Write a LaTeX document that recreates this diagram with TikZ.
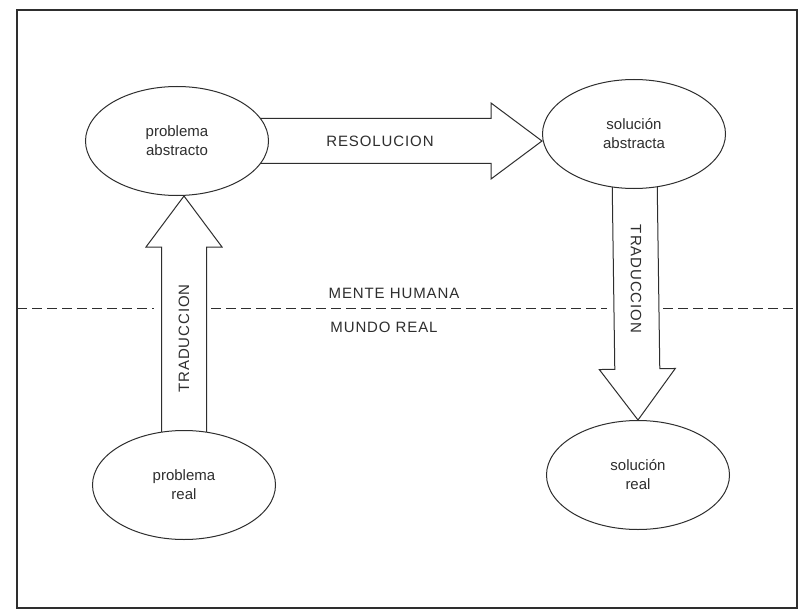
\documentclass[tikz,border=0pt]{standalone}
\usepackage{fontspec}
\setmainfont{Liberation Sans}
\newfontfamily\capsfont[LetterSpace=6]{Liberation Sans}
\usetikzlibrary{shapes.geometric,calc,positioning,backgrounds}

\colorlet{ink}{black!82}
\newcommand{\labelsize}{\fontsize{15}{19}\selectfont}

% fat outlined arrow: from, tip, label, label angle
\newcommand{\fatarrow}[4]{%
	\coordinate (hb) at ($(#2)!51pt!(#1)$);
	\draw[fatline] ($(#1)!22.5pt!90:(#2)$) -- ($(hb)!22.5pt!-90:(#1)$)
		-- ($(hb)!38pt!-90:(#1)$) -- (#2) -- ($(hb)!38pt!90:(#1)$)
		-- ($(hb)!22.5pt!90:(#1)$) -- ($(#1)!22.5pt!-90:(#2)$);
	\path (#1) -- node[tag, rotate=#4] {#3} (hb);
}

\begin{document}
\begin{tikzpicture}[x=1pt, y=-1pt, blob/.style={
% The shape:
ellipse,
% The size:
minimum width=183pt, minimum height=109pt, inner sep=0pt,
% The border:
draw=ink, line width=1pt, fill=white,
% The text:
align=center, text=ink, font=\labelsize
}, fatline/.style={draw=ink, line width=1pt, line join=miter},
tag/.style={text=ink, font=\capsfont\labelsize, inner sep=0pt},
divider/.style={draw=ink, line width=0.9pt, dash pattern=on 10pt off 5pt}]

	\useasboundingbox (0,0) rectangle (806,615);

	\node (PA) [blob] at (177,141) {problema\\abstracto};
	\node (SA) [blob] at (634,134) {solución\\abstracta};
	\node (PR) [blob] at (184,485) {problema\\real};
	\node (SR) [blob] at (638,475) {solución\\real};

	\coordinate (split) at (390,308);
	\node (MH) [tag] at (394,293) {MENTE HUMANA};
	\node (MR) [tag] at (384,327) {MUNDO REAL};

	\begin{pgfonlayer}{background}
		\fill[white] (0,0) rectangle (806,615);
		\draw[draw=ink, line width=1.2pt] (17,10) rectangle (797,608);

		\coordinate (tipR) at (PA -| SA.west);
		\coordinate (tipL) at (PR |- PA.south);
		\fatarrow{PA}{tipR}{RESOLUCION}{0}
		\fatarrow{PR}{tipL}{TRADUCCION}{90}
		\fatarrow{SA}{SR.north}{TRADUCCION}{-90}

		% frontier between the two worlds
		\coordinate (leftend) at (17,308);
		\coordinate (rightend) at (797,308);
		\draw[divider] (leftend) -- ($(PR |- split)+(-30,0)$);
		\draw[divider] ($(PR |- split)+(27,0)$) -- ($(SR |- split)+(-31,0)$);
		\draw[divider] ($(SR |- split)+(25,0)$) -- (rightend);
	\end{pgfonlayer}
\end{tikzpicture}
\end{document}
